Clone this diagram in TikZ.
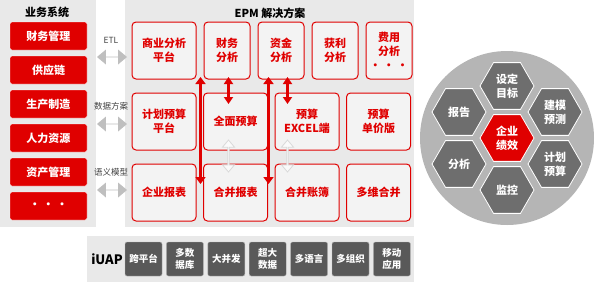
\documentclass[tikz,border=0pt]{standalone}
\usepackage{fontspec}
\setmainfont{Noto Sans CJK SC}
\usetikzlibrary{shapes.geometric,shapes.arrows,arrows.meta,positioning,calc}
\definecolor{epmred}{HTML}{E00000}
\definecolor{panelgray}{HTML}{E9E9E9}
\definecolor{boxgray}{HTML}{F3F3F3}
\definecolor{darkbox}{HTML}{595959}
\definecolor{hexgray}{HTML}{6E6E6E}
\definecolor{circgray}{HTML}{B5B5B5}
\definecolor{labelgray}{HTML}{404040}

\begin{document}
\begin{tikzpicture}[x=1pt, y=-1pt, >=Latex, font=\bfseries\fontsize{11}{14}\selectfont,
  sysbox/.style={fill=epmred, draw=white, rounded corners=2pt, text=white, minimum width=77pt, minimum height=28pt, inner sep=0pt},
  epmbox/.style={draw=epmred, line width=1pt, fill=boxgray, rounded corners=4pt, text=epmred, align=center, minimum width=46pt, minimum height=57pt, inner sep=0pt},
  uapbox/.style={fill=darkbox, draw=gray!60, rounded corners=2pt, text=white, align=center, minimum width=37pt, minimum height=34pt, inner sep=0pt, font=\bfseries\fontsize{9.5}{11.5}\selectfont},
  hexnode/.style={regular polygon, regular polygon sides=6, minimum size=54pt, inner sep=0pt, fill=hexgray, draw=white, line width=0.8pt, text=white, align=center},
  lbl/.style={text=labelgray, font=\fontsize{8.5}{10}\selectfont},
  linkarrow/.style={double arrow, fill=gray!50, minimum height=30pt, minimum width=15pt, double arrow head extend=3.5pt, double arrow tip angle=80, inner sep=0pt},
  hollowarrow/.style={double arrow, rotate=90, fill=white!60!boxgray, draw=gray!30, line width=0.8pt, minimum height=32pt, minimum width=12pt, double arrow head extend=3pt, double arrow tip angle=80, inner sep=0pt},
  redarrow/.style={epmred, line width=3pt, {Triangle[width=9pt,length=7pt]}-{Triangle[width=9pt,length=7pt]}},
  longarrow/.style={redarrow, line width=3.6pt, {Triangle[width=10pt,length=7pt]}-{Triangle[width=10pt,length=7pt]}}]
\useasboundingbox (0,0) rectangle (600,282);
% panels
\fill[panelgray] (0,0) rectangle (96,227);
\fill[panelgray] (125,0) rectangle (414,227);
\fill[panelgray] (87,236) rectangle (414,282);
% business systems
\node (ywxt) at (47,12) {业务系统};
\node[sysbox] (cwgl) at (48.5,36) {财务管理};
\node[sysbox, below=5.6pt of cwgl] (gyl) {供应链};
\node[sysbox, below=5.6pt of gyl] (sczz) {生产制造};
\node[sysbox, below=5.6pt of sczz] (rlzy) {人力资源};
\node[sysbox, below=5.6pt of rlzy] (zcgl) {资产管理};
\node[sysbox, below=5.6pt of zcgl] (more) {• • •};
% links
\node[lbl] (etl) at (111,40) {ETL};
\node[lbl] (sjfa) at (111,106) {数据方案};
\node[lbl] (yymx) at (111,172) {语义模型};
\node[linkarrow] (l1) at (112,57) {};
\node[linkarrow] (l2) at (112,124) {};
\node[linkarrow] (l3) at (112,190) {};
% EPM
\node (epm) at (270,13) {EPM 解决方案};
\node[epmbox, minimum width=64pt] (syfx) at (164,50.5) {商业分析\\平台};
\node[epmbox, right=7pt of syfx] (cwfx) {财务\\分析};
\node[epmbox, right=7pt of cwfx] (zjfx) {资金\\分析};
\node[epmbox, right=7pt of zjfx] (hlfx) {获利\\分析};
\node[epmbox, right=7pt of hlfx] (fyfx) {费用\\分析\\• • •};
\node[epmbox, minimum width=64pt, below=13pt of syfx] (jhys) {计划预算\\平台};
\node[epmbox, minimum width=64pt, right=6.5pt of jhys] (qmys) {全面预算};
\node[epmbox, minimum width=64pt, right=6.5pt of qmys] (ysexcel) {预算\\EXCEL端};
\node[epmbox, minimum width=64pt, right=6.5pt of ysexcel] (ysdj) {预算\\单价版};
\node[epmbox, minimum width=64pt, below=13pt of jhys] (qybb) {企业报表};
\node[epmbox, minimum width=64pt, right=6.5pt of qybb] (hbbb) {合并报表};
\node[epmbox, minimum width=64pt, right=6.5pt of hbbb] (hbzb) {合并账簿};
\node[epmbox, minimum width=64pt, right=6.5pt of hbzb] (dwhb) {多维合并};
\coordinate (r1t) at (200.5,77);
\coordinate (r1b) at (200.5,184);
\coordinate (r2t) at (268.5,77);
\coordinate (r2b) at (268.5,184);
\coordinate (s1t) at (228.5,77);
\coordinate (s1b) at (228.5,104);
\coordinate (s2t) at (287.5,77);
\coordinate (s2b) at (287.5,104);
\draw[longarrow] (r1t) -- (r1b);
\draw[longarrow] (r2t) -- (r2b);
\draw[redarrow] (s1t) -- (s1b);
\draw[redarrow] (s2t) -- (s2b);
\node[hollowarrow] (h1) at (228.5,156) {};
\node[hollowarrow] (h2) at (287.5,156) {};
% iUAP
\node[font=\bfseries\fontsize{13}{15}\selectfont] (iuap) at (107,259) {iUAP};
\node[uapbox] (kpt) at (143.5,259) {跨平台};
\node[uapbox, right=4pt of kpt] (dsjk) {多数\\据库};
\node[uapbox, right=4pt of dsjk] (dbf) {大并发};
\node[uapbox, right=4pt of dbf] (cdsj) {超大\\数据};
\node[uapbox, right=4pt of cdsj] (dyy) {多语言};
\node[uapbox, right=4pt of dyy] (dzz) {多组织};
\node[uapbox, right=4pt of dzz] (ydyy) {移动\\应用};
% performance wheel
\node[circle, fill=circgray, minimum size=174pt] (ring) at (507,138) {};
\node[hexnode, fill=epmred] (qyjx) at (ring.center) {企业\\绩效};
\node[hexnode] (sdmb) at ($(qyjx)+(0,-52)$) {设定\\目标};
\node[hexnode] (jmyc) at ($(qyjx)+(48,-26)$) {建模\\预测};
\node[hexnode] (jhys2) at ($(qyjx)+(48,26)$) {计划\\预算};
\node[hexnode] (jk) at ($(qyjx)+(0,52)$) {监控};
\node[hexnode] (fx) at ($(qyjx)+(-48,26)$) {分析};
\node[hexnode] (bg) at ($(qyjx)+(-48,-26)$) {报告};
\end{tikzpicture}
\end{document}
